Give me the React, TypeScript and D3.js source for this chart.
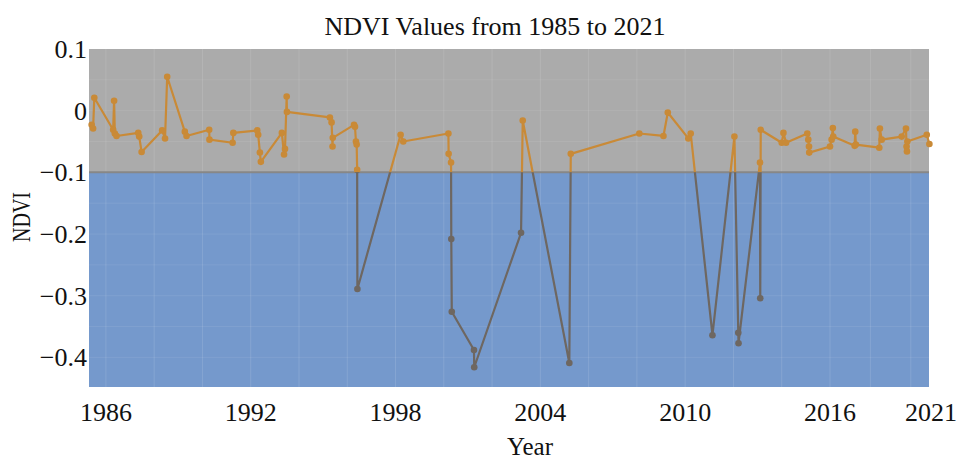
import React from 'react';
import * as d3 from 'd3';

const title = 'NDVI Values from 1985 to 2021';
const xLabel = 'Year';
const yLabel = 'NDVI';

const years = [
  1985.41, 1985.47, 1985.52, 1986.30, 1986.34, 1986.37, 1986.44, 1987.34, 1987.38, 1987.48,
  1988.33, 1988.45, 1988.54, 1989.27, 1989.34, 1990.28, 1990.29, 1991.25, 1991.28, 1992.27,
  1992.31, 1992.38, 1992.42, 1993.29, 1993.38, 1993.42, 1993.49, 1993.50, 1995.28, 1995.35,
  1995.39, 1995.40, 1996.28, 1996.32, 1996.36, 1996.39, 1996.41, 1996.42, 1998.21, 1998.32,
  2000.19, 2000.20, 2000.30, 2000.31, 2000.33, 2001.25, 2001.26, 2003.20, 2003.27, 2005.20,
  2005.26, 2008.10, 2009.10, 2009.28, 2010.13, 2010.23, 2011.13, 2012.04, 2012.20, 2012.21,
  2013.10, 2013.11, 2013.13, 2014.00, 2014.07, 2014.18, 2015.06, 2015.10, 2015.13, 2015.14,
  2016.00, 2016.08, 2016.14, 2016.16, 2017.22, 2017.25, 2017.28, 2018.44, 2018.47, 2018.56,
  2019.55, 2019.76, 2019.79, 2019.81, 2019.83, 2020.79, 2020.92,
];

const ndvi = [
  -0.023, -0.029, 0.021, -0.031, 0.016, -0.037, -0.041, -0.036, -0.042, -0.067,
  -0.032, -0.045, 0.055, -0.034, -0.041, -0.031, -0.047, -0.052, -0.036, -0.032,
  -0.039, -0.068, -0.083, -0.036, -0.071, -0.062, 0.023, -0.002, -0.011, -0.019,
  -0.058, -0.044, -0.023, -0.026, -0.050, -0.055, -0.096, -0.289, -0.039, -0.050,
  -0.037, -0.070, -0.084, -0.208, -0.326, -0.388, -0.416, -0.198, -0.016, -0.409,
  -0.070, -0.037, -0.041, -0.003, -0.045, -0.037, -0.364, -0.042, -0.360, -0.377,
  -0.084, -0.304, -0.031, -0.052, -0.036, -0.052, -0.037, -0.047, -0.058, -0.068,
  -0.058, -0.047, -0.028, -0.042, -0.057, -0.034, -0.055, -0.060, -0.029, -0.047,
  -0.042, -0.029, -0.058, -0.066, -0.050, -0.039, -0.054,
];

const xTickYears = [1986, 1992, 1998, 2004, 2010, 2016, 2021];
const yTicks = [0.1, 0, -0.1, -0.2, -0.3, -0.4];
const gridYears = d3.range(1986, 2021, 2);
const threshold = -0.1;

const W = 956;
const H = 462;
const left = 89;
const right = 929;
const top = 49;
const bottom = 387;

export default function App() {
  const x = d3.scaleLinear().domain([1985.3, 2016, 2021]).range([left, 830, 931]);
  const y = d3.scaleLinear().domain([-0.448, 0.1]).range([bottom, top]);
  const yT = y(threshold);

  const pts = years.map((yr, i) => [x(yr), y(ndvi[i])] as [number, number]);
  const linePath = d3.line()(pts) || '';

  const fmt = (v: number) => (v === 0 ? '0' : d3.format('.1f')(v).replace('-', '\u2212'));

  const series = (color: string) => (
    <g>
      <path d={linePath} fill="none" stroke={color} strokeWidth={2.2} strokeLinejoin="round" />
      {pts.map((p, i) => (
        <circle key={i} cx={p[0]} cy={p[1]} r={3.3} fill={color} />
      ))}
    </g>
  );

  return (
    <svg
      width={W}
      height={H}
      viewBox={`0 0 ${W} ${H}`}
      style={{ position: 'absolute', left: 0, top: 0, background: '#fff' }}
      fontFamily="'Liberation Serif', serif"
    >
      <defs>
        <clipPath id="above">
          <rect x={0} y={0} width={W} height={yT} />
        </clipPath>
        <clipPath id="below">
          <rect x={0} y={yT} width={W} height={H - yT} />
        </clipPath>
      </defs>

      <rect x={left} y={top} width={right - left} height={yT - top} fill="#ababab" />
      <rect x={left} y={yT} width={right - left} height={bottom - yT} fill="#7599cc" />

      {gridYears.map((g) => (
        <line key={g} x1={x(g)} x2={x(g)} y1={top} y2={bottom} stroke="#ffffff" strokeOpacity={0.12} strokeWidth={1} />
      ))}
      {d3.range(-0.4, 0.1, 0.05).map((v, i) => (
        <line key={i} x1={left} x2={right} y1={y(v)} y2={y(v)} stroke="#ffffff" strokeOpacity={0.08} strokeWidth={1} />
      ))}

      <line x1={left} x2={right} y1={yT} y2={yT} stroke="#878787" strokeWidth={2} />

      <g clipPath="url(#above)">{series('#c98a37')}</g>
      <g clipPath="url(#below)">{series('#6e6761')}</g>

      <text x={495} y={35} textAnchor="middle" fontSize={26} fill="#111">
        {title}
      </text>

      {yTicks.map((t) => (
        <text key={t} x={87} y={y(t)} dy="0.35em" textAnchor="end" fontSize={26} fill="#111">
          {fmt(t)}
        </text>
      ))}

      {xTickYears.map((t) => (
        <text key={t} x={x(t)} y={421} textAnchor="middle" fontSize={26} fill="#111">
          {t}
        </text>
      ))}

      <text x={530} y={455} textAnchor="middle" fontSize={25} fill="#111">
        {xLabel}
      </text>
      <text
        transform={`translate(30, 217) rotate(-90)`}
        textAnchor="middle"
        fontSize={25}
        textLength={50}
        lengthAdjust="spacingAndGlyphs"
        fill="#111"
      >
        {yLabel}
      </text>
    </svg>
  );
}
